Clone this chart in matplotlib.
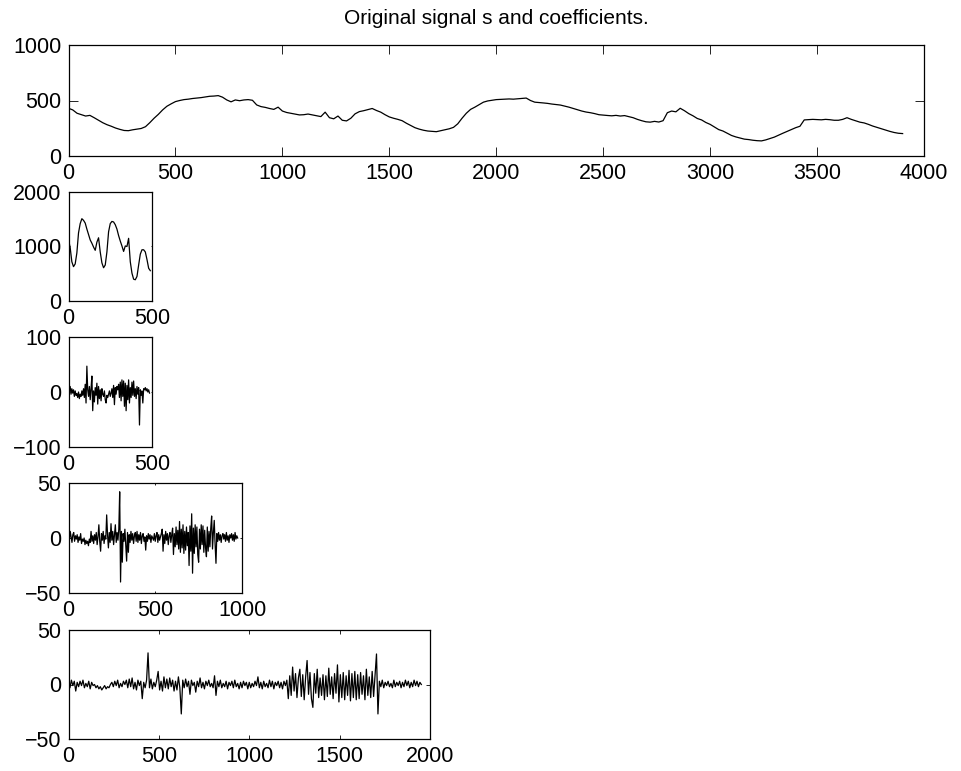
import matplotlib
matplotlib.use('Agg')
import matplotlib.pyplot as plt
import numpy as np

# original signal s, read every 20 samples
s_step = 20
s_vals = [
    430, 415, 385, 372, 360, 366, 345, 322, 300, 282,
    268, 252, 240, 230, 228, 236, 242, 248, 264, 300,
    340, 375, 415, 448, 470, 490, 500, 508, 512, 518,
    522, 526, 532, 538, 540, 544, 530, 505, 488, 505,
    498, 505, 508, 502, 460, 445, 438, 428, 420, 440,
    405, 392, 385, 378, 370, 372, 378, 370, 362, 355,
    395, 345, 335, 360, 322, 316, 340, 380, 400, 408,
    418, 428, 410, 395, 372, 352, 340, 330, 318, 295,
    275, 255, 242, 232, 225, 222, 219, 228, 238, 245,
    258, 290, 340, 385, 420, 440, 462, 485, 496, 502,
    508, 510, 512, 514, 512, 515, 518, 522, 500, 485,
    482, 478, 474, 468, 464, 459, 450, 440, 428, 415,
    405, 396, 390, 382, 372, 368, 365, 362, 366, 360,
    364, 355, 345, 330, 318, 308, 305, 312, 306, 318,
    390, 405, 398, 430, 408, 382, 362, 338, 325, 302,
    285, 262, 238, 225, 205, 185, 172, 162, 152, 148,
    142, 138, 136, 145, 158, 170, 188, 205, 222, 238,
    255, 268, 325, 328, 330, 328, 326, 330, 327, 322,
    322, 330, 345, 330, 318, 305, 298, 285, 270, 258,
    245, 235, 222, 212, 205, 202,
]

# approximation cA3, every 10 samples
ca3_step = 10
ca3_vals = [
    1120, 980, 720, 630, 680, 880, 1250, 1420, 1510, 1480,
    1430, 1320, 1220, 1120, 1060, 990, 930, 1080, 1160, 900,
    700, 610, 660, 900, 1270, 1420, 1460, 1450, 1400, 1320,
    1200, 1100, 1010, 910, 1010, 1000, 1150, 720, 510, 400,
    390, 450, 660, 860, 940, 940, 900, 760, 600, 556,
]

# detail cD3, every 5 samples
cd3_step = 5
cd3_vals = [
    8, 2, 10, -4, 6, -2, 4, -8, 2, -6, -3, -10, 0, -12, -4, -8, 2,
    -6, 6, -10, 14, -20, 47, 4,
    -8, 10, -14, 6, 29, -34, 2, -18, 8,
    -6, 16, -22, 10, -12, 4, -16, 6,
    -4, -8, 2, -14, -20, -6, -10, -4, 2, -8,
    -2, 6, -10, 12, -23, 8, -4, 10,
    4, 14, -10, 18, -16, 22, -8, 20, -26, 16, -34, 12, -14, 22, -20, 8, -10, 18, -6,
    20, -8, 6, -12, 10, -4, 8, -60, 4, -6, 2, -20, 6,
    4, 8, 2, 6, 0, 4, -2,
]

# detail cD2, every 5 samples
cd2_step = 5
cd2_vals = [
    4, -2, 6, 1, -4, 3, 5, -3, 2, -1,
    3, -4, 1, -2, 4, -5, -1, -3, 0, -6,
    -2, -5, -3, -7, -1, -4, 6, -3, 2, -5,
    3, -2, 5, -6, 1, 12, -3, -12, 4, -2,
    6, -5, 2, -1, 21, 3, -9, 5, -4, 13,
    -2, 6, -6, 3, 12, -4, 5, -2, 8, 42,
    -40, 6, -22, 4, -3, 8, -6, -21, 5, -13,
    3, -4, 6, -2, 4, -5, 2, 5, -3, 6,
    -4, 3, -2, 5, -5, 2, 4, -3, 1, -11,
    2, -3, 4, -1, 3, -4, 2, 0, -2, 4,
    -3, 2, 5, -4, 3, -2, 1, 4, 8, -12,
    3, -5, 6, -2, 4, -6, 2, 5, -4, 3,
    9, -15, 4, -8, 10, -6, 7, -10, 15, -13,
    8, -9, 12, -14, 6, -11, 10, -7, 5, -25,
    11, -12, 22, -32, 9, -14, 12, -8, 10, -15,
    -22, 8, -10, 12, -6, 11, -13, 7, -9, -17,
    10, -12, 6, -8, 9, 20, -10, 5, 16, -6,
    -23, 4, -3, 5, -2, 3, -4, 2, 4, -1,
    3, -3, 5, -2, 2, -4, 3, 0, 4, -2,
    3, -3, 5, -1, 2, 0,
]

# detail cD1, every 8 samples
cd1_step = 8
cd1_vals = [
    2, -3, 4, -1, 3, -6, 2, -2, 3, -1,
    4, -3, 1, -2, 3, -4, 2, -1, 0, -3,
    -1, -4, -2, -5, -3, -1, -4, -2, -3, 0,
    2, -2, 3, -1, 4, -3, 1, -2, 3, 0,
    4, -3, 5, -2, 6, -4, 2, -5, 4, -1,
    3, -13, 2, -3, 4, 29, -3, 5, -4, 2,
    -2, 4, 12, -5, 3, -6, 7, -3, 5, -4,
    6, -2, 4, -6, 3, -5, 7, -3, -27, 4,
    -3, 5, -2, 3, -9, 4, -1, 2, -7, 3,
    -2, 6, -3, 2, -4, 3, -1, 4, -2, 1,
    -3, 8, -10, 3, -2, 4, -3, 1, -2, 3,
    -4, 2, -1, 3, -3, 4, -2, 1, -4, 2,
    -3, 3, -1, 2, -4, 2, -3, 1, -2, 3,
    -1, 7, -3, 2, -4, 3, -2, 1, -3, 4,
    -2, 3, -4, 2, -1, 3, -3, 2, -4, 3,
    -1, 4, -13, 8, -10, 16, -6, 10, -12, 6,
    14, -11, 9, -14, 7, 22, -9, 11, -13, -21,
    10, -8, 14, -12, 6, -10, 9, -14, 8, -11,
    15, -9, 7, -13, 10, -8, 18, -16, 9, -12,
    11, -14, 8, -10, 13, -15, 10, -12, 12, -14,
    9, -13, 11, -9, 8, -14, 14, -10, 7, -12,
    12, -11, 9, 28, -27, 3, -2, 4, -3, 2,
    -1, 3, -2, 1, -3, 4, -2, 2, -1, 3,
    -3, 2, -2, 4, -1, 3, -3, 2, -2, 4,
    -1, 3, -2, 2, 0,
]

panels = [
    # (values, step, xlim, xticks, ylim, yticks, rect in pixels l, t, r, b)
    (s_vals, s_step, (0, 4000), range(0, 4001, 500), (0, 1000), [0, 500, 1000], (68.5, 45, 924, 156)),
    (ca3_vals, ca3_step, (0, 500), [0, 500], (0, 2000), [0, 1000, 2000], (68.5, 192, 152, 301)),
    (cd3_vals, cd3_step, (0, 500), [0, 500], (-100, 100), [-100, 0, 100], (68.5, 337, 152, 447)),
    (cd2_vals, cd2_step, (0, 1000), [0, 500, 1000], (-50, 50), [-50, 0, 50], (68.5, 483, 242, 593)),
    (cd1_vals, cd1_step, (0, 2000), range(0, 2001, 500), (-50, 50), [-50, 0, 50], (68.5, 630, 430, 739)),
]

W, H = 961, 771
plt.rcParams['font.family'] = ['Liberation Sans', 'DejaVu Sans']

fig = plt.figure(figsize=(W / 100, H / 100), dpi=100)

for vals, step, xlim, xticks, ylim, yticks, (l, t, r, b) in panels:
    ax = fig.add_axes([l / W, (H - b) / H, (r - l) / W, (b - t) / H])
    y = np.array(vals, dtype=float)
    x = np.arange(len(y)) * step
    ax.plot(x, y, color='black', linewidth=0.9)
    ax.set_xlim(*xlim)
    ax.set_ylim(*ylim)
    ax.set_xticks(list(xticks))
    ax.set_yticks(yticks)
    ticklen = 0.01 * max(r - l, b - t) * 0.72
    ax.tick_params(direction='in', top=True, right=True, length=ticklen,
                   width=0.6, labelsize=15.5)
    ax.tick_params(axis='x', pad=5)
    ax.tick_params(axis='y', pad=5)
    for sp in ax.spines.values():
        sp.set_linewidth(0.9)

fig.text(496 / W, (H - 18) / H, 'Original signal s and coefficients.',
         ha='center', va='center', fontsize=15)

fig.savefig('out.png', dpi=100)
